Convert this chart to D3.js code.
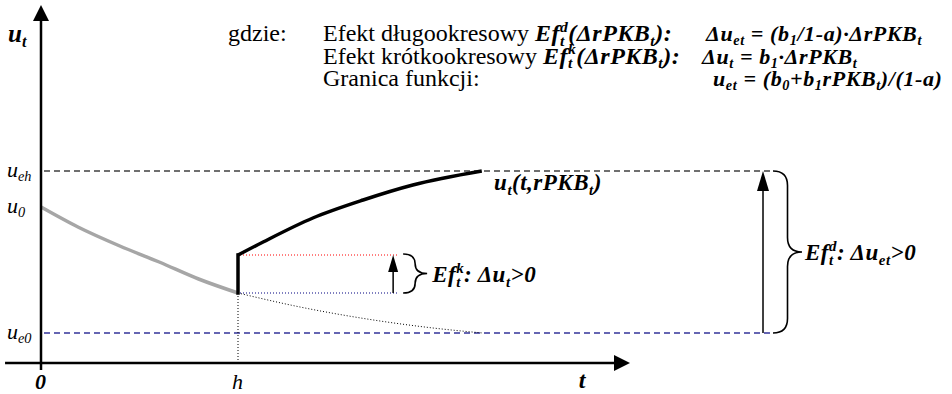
<!DOCTYPE html>
<html>
<head>
<meta charset="utf-8">
<script src="https://cdn.jsdelivr.net/npm/d3@7"></script>
<style>
  html, body { margin: 0; padding: 0; background: #fff; }
  svg { display: block; }
</style>
</head>
<body>
<svg id="chart" width="952" height="394"></svg>
<script>
//
// Data (diagram units: t along the time axis, u on the vertical axis)
//

// path of u_t before the change, t in [0, h]
const tDecay = [0, 0.75, 1.6, 2.4, 3.2, 4.0]
const uDecay = [15.6, 13.6, 11.7, 10.1, 8.4, 7.0]
// what would have happened without the change (dotted)
const tCont = [4.0, 5.26, 6.62, 7.96, 8.97]
const uCont = [7.0, 5.6, 4.4, 3.5, 3.0]
// path after the jump at h
const tRise = [4.0, 4.51, 5.52, 6.54, 7.55, 8.95]
const uRise = [10.8, 12.1, 14.5, 16.3, 17.8, 19.2]

// reference levels
const H = 4.0
const U_0 = 15.6
const U_E0 = 3.0
const U_EH = 19.2
const U_H = 7.0 // u at h before jump
const U_HK = 10.8 // u at h after jump

// extents
const T_MIN = -0.73
const T_END = 11.96
const T_SHORT = 7.15 // short-run arrow
const T_SHORT_END = 7.25
const T_LONG = 14.66 // long-run arrow
const T_LONG_END = 14.85
const U_MIN = -0.7
const U_TOP = 35.8

// legend text rows
const legendRows = [
  { plain: 'Efekt długookresowy', bold: 'Ef_{t}^{d}(ΔrPKB_{t}):', formula: 'Δu_{et} = (b_{1}/1-a)·ΔrPKB_{t}', fx: 706 },
  { plain: 'Efekt krótkookresowy', bold: 'Ef_{t}^{k}(ΔrPKB_{t}):', formula: 'Δu_{t} = b_{1}·ΔrPKB_{t}', fx: 702 },
  { plain: 'Granica funkcji:', bold: '', formula: 'u_{et} = (b_{0}+b_{1}rPKB_{t})/(1-a)', fx: 713 },
]

//
// Setup
//

const FONT = '"Liberation Serif", "Times New Roman", "DejaVu Serif", serif'
const svg = d3.select('#chart')
const x = d3.scaleLinear().domain([0, 12]).range([41, 632])
const y = d3.scaleLinear().domain([0, 36]).range([363, 3])

// parse "ab_{x}^{y}" into pieces
function parse(str) {
  const parts = []
  const re = /([_^])\{([^}]*)\}|([^_^]+)/g
  let m
  while ((m = re.exec(str))) {
    if (m[3]) parts.push({ s: m[3], p: '' })
    else {
      let p = m[1] === '_' ? 'sub' : 'sup'
      if (p === 'sup' && parts.length && parts[parts.length - 1].p === 'sub') p = 'stack'
      parts.push({ s: m[2], p: p })
    }
  }
  return parts
}

function rich(g, x0, y0, str, size, style, spacing) {
  let cx = x0
  let subX = x0
  const bold = style.indexOf('b') >= 0
  parse(str).forEach(function (p) {
    const small = p.p ? 0.65 : 1
    const dy = p.p === 'sub' ? 0.2 * size : p.p ? -0.38 * size : 0
    const px = p.p === 'stack' ? subX : cx
    const t = g
      .append('text')
      .attr('x', px)
      .attr('y', y0 + dy)
      .attr('font-family', FONT)
      .attr('font-size', size * small)
      .attr('font-style', style.indexOf('i') >= 0 ? 'italic' : 'normal')
      .attr('font-weight', bold ? 'bold' : 'normal')
      .attr('letter-spacing', spacing || 0)
      .attr('fill', '#000')
      .style('white-space', 'pre')
      .text(p.s)
    const w = t.node().getComputedTextLength()
    if (p.p === 'sub') subX = cx
    cx = p.p === 'stack' ? Math.max(cx, px + w) : px + w
  })
  return cx
}

function arrowHead(tipX, tipY, dir, len, half) {
  // dir: 'up' or 'right'
  const pts =
    dir === 'up'
      ? [[tipX, tipY], [tipX - half, tipY + len], [tipX + half, tipY + len]]
      : [[tipX, tipY], [tipX - len, tipY - half], [tipX - len, tipY + half]]
  svg.append('path').attr('d', 'M' + pts.join('L') + 'Z').attr('fill', '#000')
}

function brace(x0, y1, y2, w) {
  const q = w / 2
  const r = Math.min(q, (y2 - y1) / 4)
  const ym = (y1 + y2) / 2
  const d =
    `M${x0},${y1} Q${x0 + q},${y1} ${x0 + q},${y1 + r} L${x0 + q},${ym - r} ` +
    `Q${x0 + q},${ym} ${x0 + w},${ym} Q${x0 + q},${ym} ${x0 + q},${ym + r} ` +
    `L${x0 + q},${y2 - r} Q${x0 + q},${y2} ${x0},${y2}`
  svg.append('path').attr('d', d).attr('fill', 'none').attr('stroke', '#000').attr('stroke-width', 1.6)
}

const line = d3.line().x((d) => x(d[0])).y((d) => y(d[1])).curve(d3.curveMonotoneX)

//
// Reference lines
//

svg.append('line')
  .attr('x1', x(0) + 3).attr('x2', x(T_LONG_END))
  .attr('y1', y(U_EH)).attr('y2', y(U_EH))
  .attr('stroke', '#404040').attr('stroke-width', 1.3).attr('stroke-dasharray', '6,4')

svg.append('line')
  .attr('x1', x(0) + 3).attr('x2', x(T_LONG_END))
  .attr('y1', y(U_E0)).attr('y2', y(U_E0))
  .attr('stroke', '#333399').attr('stroke-width', 1.5).attr('stroke-dasharray', '6,4')

// dotted helpers
svg.append('line')
  .attr('x1', x(H)).attr('x2', x(H)).attr('y1', y(U_H)).attr('y2', y(0))
  .attr('stroke', '#000').attr('stroke-width', 1).attr('stroke-dasharray', '1,2')

svg.append('line')
  .attr('x1', x(H) + 2).attr('x2', x(T_SHORT_END)).attr('y1', y(U_HK)).attr('y2', y(U_HK))
  .attr('stroke', '#ff0000').attr('stroke-width', 1).attr('stroke-dasharray', '1,2')

svg.append('line')
  .attr('x1', x(H) + 2).attr('x2', x(T_SHORT_END)).attr('y1', y(U_H)).attr('y2', y(U_H))
  .attr('stroke', '#000080').attr('stroke-width', 1).attr('stroke-dasharray', '1,2')

svg.append('path')
  .attr('d', line(d3.zip(tCont, uCont)))
  .attr('fill', 'none').attr('stroke', '#000').attr('stroke-width', 1).attr('stroke-dasharray', '1,2')

//
// Curves
//

svg.append('path')
  .attr('d', line(d3.zip(tDecay, uDecay)))
  .attr('fill', 'none').attr('stroke', '#a6a6a6').attr('stroke-width', 3.5)

svg.append('line')
  .attr('x1', x(H)).attr('x2', x(H)).attr('y1', y(U_H)).attr('y2', y(U_HK))
  .attr('stroke', '#000').attr('stroke-width', 3.5).attr('stroke-linecap', 'square')

svg.append('path')
  .attr('d', line(d3.zip(tRise, uRise)))
  .attr('fill', 'none').attr('stroke', '#000').attr('stroke-width', 3.5)

//
// Axes
//

svg.append('line')
  .attr('x1', x(0)).attr('x2', x(0)).attr('y1', y(U_MIN)).attr('y2', y(U_TOP) + 10)
  .attr('stroke', '#000').attr('stroke-width', 2.5)
arrowHead(x(0), y(U_TOP), 'up', 16, 8)

svg.append('line')
  .attr('x1', x(T_MIN)).attr('x2', x(T_END) - 10).attr('y1', y(0)).attr('y2', y(0))
  .attr('stroke', '#000').attr('stroke-width', 2.5)
arrowHead(x(T_END), y(0), 'right', 16, 8)

// effect arrows
svg.append('line')
  .attr('x1', x(T_SHORT)).attr('x2', x(T_SHORT)).attr('y1', y(U_H)).attr('y2', y(U_HK) + 10)
  .attr('stroke', '#000').attr('stroke-width', 1.5)
arrowHead(x(T_SHORT), y(U_HK), 'up', 17, 5)

svg.append('line')
  .attr('x1', x(T_LONG)).attr('x2', x(T_LONG)).attr('y1', y(U_E0)).attr('y2', y(U_EH) + 12)
  .attr('stroke', '#000').attr('stroke-width', 1.5)
arrowHead(x(T_LONG), y(U_EH), 'up', 20, 6)

brace(x(T_SHORT) + 10, y(U_HK) - 1, y(U_H), 24)
brace(x(T_LONG) + 10, y(U_EH), y(U_E0), 29)

//
// Labels
//

rich(svg, 8, 42, 'u_{t}', 25, 'bi')
rich(svg, 7, y(U_EH) + 6, 'u_{eh}', 22, 'i')
rich(svg, 7, y(U_0) + 6, 'u_{0}', 22, 'i')
rich(svg, 7, y(U_E0) + 6, 'u_{e0}', 22, 'i')
rich(svg, x(0) - 6, 389, '0', 22, 'bi')
rich(svg, x(H) - 6, 389, 'h', 22, 'i')
rich(svg, x(11) - 4, 388, 't', 24, 'bi')

rich(svg, x(9.2), y(U_EH) + 19, 'u_{t}(t,rPKB_{t})', 23, 'bi', 0.5)
rich(svg, x(T_SHORT) + 39, y((U_H + U_HK) / 2) + 8, 'Ef_{t}^{k}: Δu_{t}>0', 23, 'bi', 0.5)
rich(svg, x(T_LONG) + 42, y((U_EH + U_E0) / 2) + 8, 'Ef_{t}^{d}: Δu_{et}>0', 23, 'bi', 0.5)

// legend
const legend = svg.append('g')
rich(legend, 228, 41, 'gdzie:', 24, 'n')
legendRows.forEach(function (r, i) {
  const by = 41 + i * 22.5
  let ex = rich(legend, 323, by, r.plain, 24, 'n')
  if (r.bold) rich(legend, ex + 6, by, r.bold, 24, 'bi', 0.5)
  rich(legend, r.fx, by, r.formula, 22, 'bi', 0.6)
})
</script>
</body>
</html>
